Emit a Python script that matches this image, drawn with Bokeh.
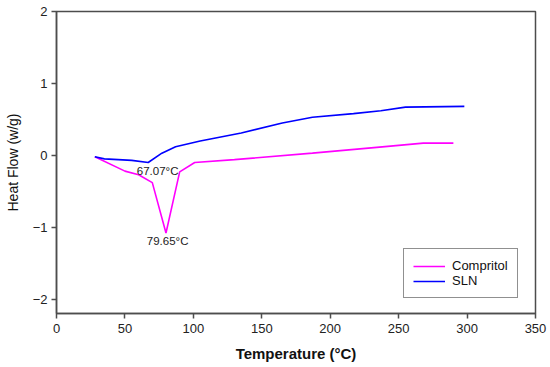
from bokeh.plotting import figure
from bokeh.models import Range1d, Legend, LegendItem, FixedTicker, Label
from bokeh.embed import file_html
from bokeh.resources import INLINE

# Data
comp_x = [28, 50, 60, 70, 80, 90, 101, 130, 187, 234, 268, 290]
comp_y = [-0.02, -0.22, -0.27, -0.38, -1.08, -0.23, -0.10, -0.06, 0.03, 0.11, 0.17, 0.17]
sln_x = [28, 35, 55, 67, 77, 87, 105, 135, 165, 187, 217, 237, 255, 298]
sln_y = [-0.02, -0.05, -0.07, -0.10, 0.03, 0.12, 0.20, 0.31, 0.45, 0.53, 0.58, 0.62, 0.67, 0.68]
x_ticks = [0, 50, 100, 150, 200, 250, 300, 350]
y_ticks = [-2, -1, 0, 1, 2]
annotations = [(73.9, -0.22, "67.07°C"), (81.2, -1.19, "79.65°C")]

FONT = "Liberation Sans"
AX = "#4d4d4d"

p = figure(width=550, height=367, x_range=Range1d(0, 350), y_range=Range1d(-2.2, 2),
           output_backend="svg", toolbar_location=None,
           min_border_left=56, min_border_right=15, min_border_top=11, min_border_bottom=54)

p.xgrid.grid_line_color = None
p.ygrid.grid_line_color = None
p.outline_line_color = AX
p.outline_line_width = 1.5
p.background_fill_color = "white"
p.border_fill_color = "white"

for ax in (p.xaxis[0], p.yaxis[0]):
    ax.axis_line_color = AX
    ax.axis_line_width = 1.5
    ax.major_tick_line_color = AX
    ax.major_tick_line_width = 1.5
    ax.major_tick_in = 0
    ax.major_tick_out = 5
    ax.minor_tick_line_color = None
    ax.major_label_text_font = FONT
    ax.major_label_text_font_size = "13px"
    ax.major_label_text_color = "#222222"
    ax.axis_label_text_font = FONT
    ax.axis_label_text_color = "#111111"

p.xaxis.ticker = FixedTicker(ticks=x_ticks)
p.yaxis.ticker = FixedTicker(ticks=y_ticks)
p.yaxis.major_label_overrides = {t: (("\u2212" + str(-t)) if t < 0 else str(t)) for t in y_ticks}
p.xaxis.major_label_standoff = 5
p.yaxis.major_label_standoff = 4

p.xaxis.axis_label = "Temperature (°C)"
p.xaxis.axis_label_text_font_style = "bold"
p.xaxis.axis_label_text_font_size = "15px"
p.xaxis.axis_label_standoff = 9
p.yaxis.axis_label = "Heat Flow (w/g)"
p.yaxis.axis_label_text_font_style = "normal"
p.yaxis.axis_label_text_font_size = "14px"
p.yaxis.axis_label_standoff = 9

r_comp = p.line(comp_x, comp_y, line_color="#ff00ff", line_width=1.6)
r_sln = p.line(sln_x, sln_y, line_color="#0000ff", line_width=1.6)

for (ax_, ay_, t) in annotations:
    p.add_layout(Label(x=ax_, y=ay_, text=t, text_align="center", text_baseline="middle",
                       text_font=FONT, text_font_size="11.5px", text_color="#222222"))

legend = Legend(items=[LegendItem(label="Compritol", renderers=[r_comp]),
                       LegendItem(label="SLN", renderers=[r_sln])],
                location=(347, 15))
legend.margin = 0
legend.padding = 9
legend.spacing = 0
legend.label_height = 14
legend.glyph_height = 14
legend.glyph_width = 32
legend.label_standoff = 7
legend.label_text_font = FONT
legend.label_text_font_size = "13px"
legend.label_text_color = "#111111"
legend.border_line_color = "#222222"
legend.border_line_width = 1
legend.background_fill_alpha = 1
p.add_layout(legend)

open("out.html", "w").write(file_html(p, INLINE))
